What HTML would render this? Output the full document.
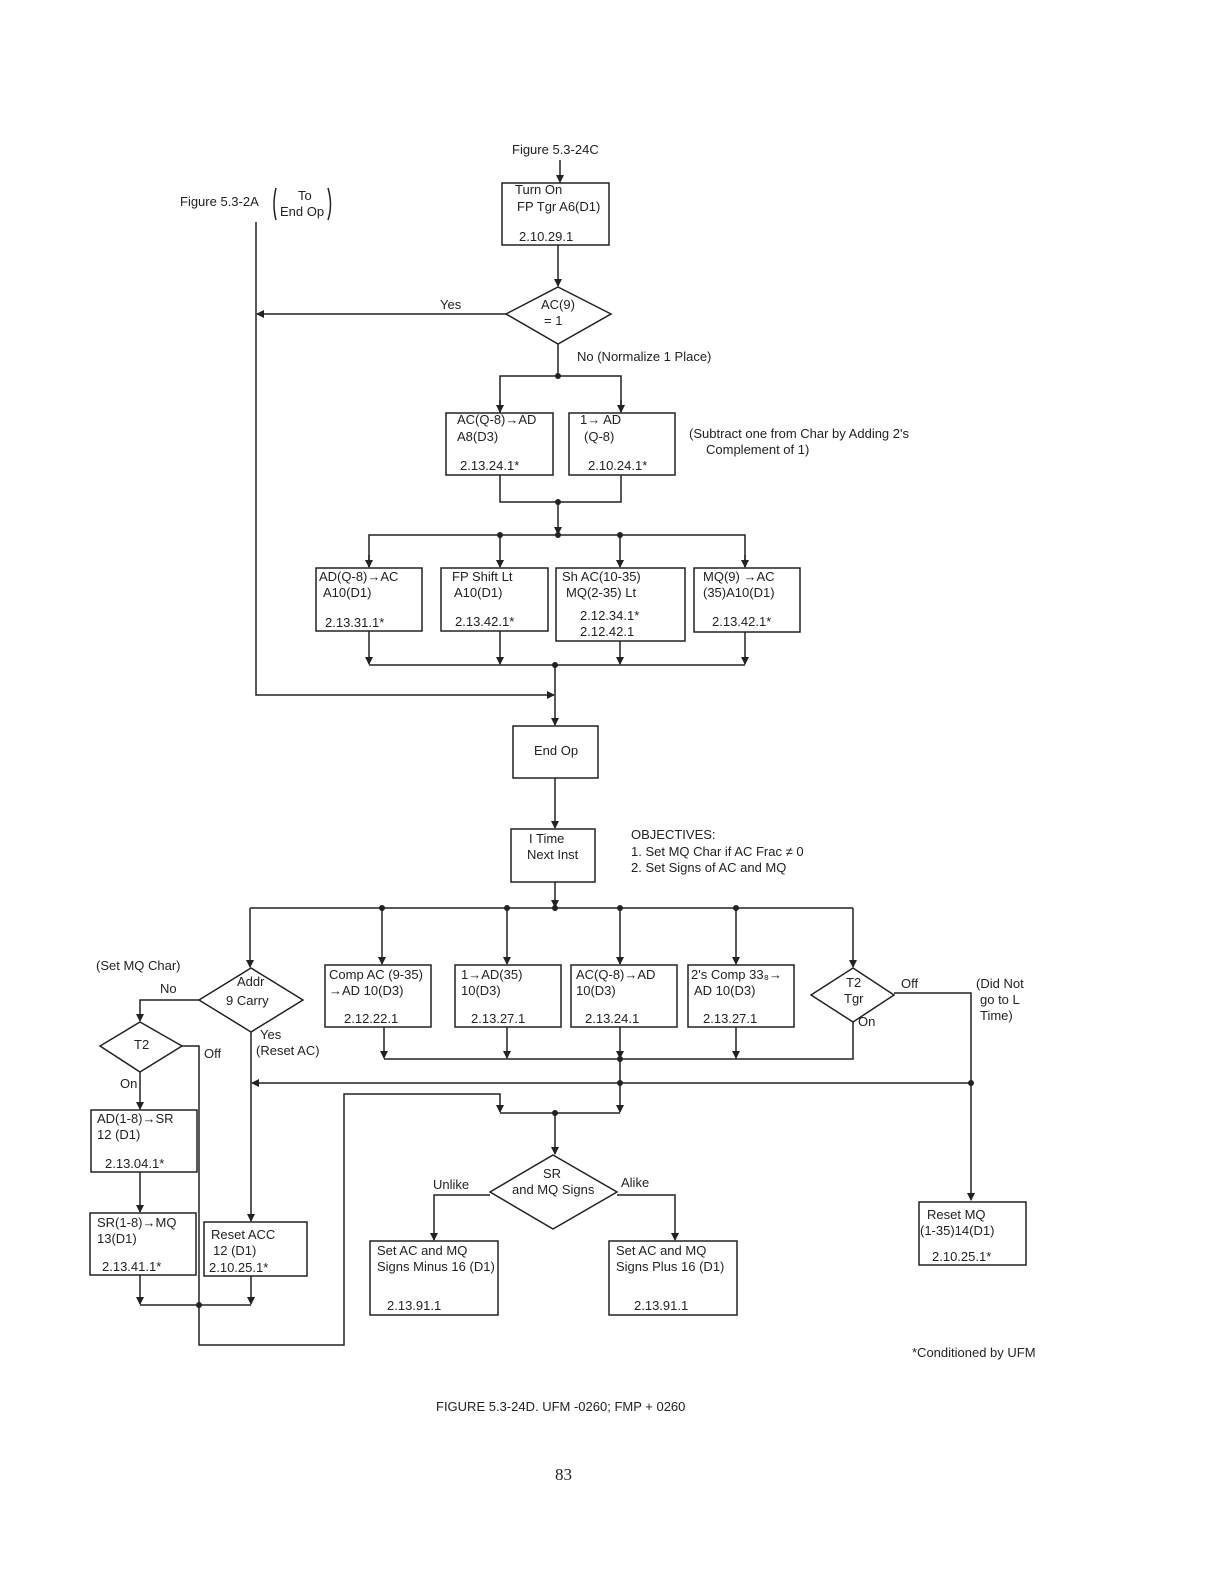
<!DOCTYPE html>
<html><head><meta charset="utf-8"><style>
body{margin:0;background:#fff}
svg{display:block}
text{font-family:"Liberation Sans",sans-serif;font-size:13px;fill:#222}
</style></head><body>
<svg width="1224" height="1584" viewBox="0 0 1224 1584" xmlns="http://www.w3.org/2000/svg">
<defs><marker id="a" markerWidth="8" markerHeight="8" refX="7" refY="4" orient="auto" markerUnits="userSpaceOnUse"><path d="M0,0 L8,4 L0,8 z" fill="#222"/></marker></defs>
<g stroke="#222" stroke-width="1.5" fill="none">
<!-- top -->
<line x1="560" y1="160" x2="560" y2="182" marker-end="url(#a)"/>
<rect x="502" y="183" width="107" height="62"/>
<line x1="558" y1="245" x2="558" y2="286" marker-end="url(#a)"/>
<polygon points="558,287 611,314 558,344 506,314"/>
<line x1="506" y1="314" x2="257" y2="314" marker-end="url(#a)"/>
<path d="M256 222 V695 H554" marker-end="url(#a)"/>
<line x1="558" y1="344" x2="558" y2="376"/>
<path d="M500 413 V376 H621 V412"/>
<line x1="500" y1="400" x2="500" y2="412" marker-end="url(#a)"/>
<line x1="621" y1="400" x2="621" y2="412" marker-end="url(#a)"/>
<rect x="446" y="413" width="107" height="62"/>
<rect x="569" y="413" width="106" height="62"/>
<path d="M500 475 V502 H621 V475"/>
<line x1="558" y1="502" x2="558" y2="534" marker-end="url(#a)"/>
<path d="M369 567 V535 H745 V567"/>
<line x1="369" y1="555" x2="369" y2="567" marker-end="url(#a)"/>
<line x1="745" y1="555" x2="745" y2="567" marker-end="url(#a)"/>
<line x1="500" y1="535" x2="500" y2="567" marker-end="url(#a)"/>
<line x1="620" y1="535" x2="620" y2="567" marker-end="url(#a)"/>
<rect x="316" y="568" width="106" height="63"/>
<rect x="441" y="568" width="107" height="63"/>
<rect x="556" y="568" width="129" height="73"/>
<rect x="694" y="568" width="106" height="64"/>
<line x1="369" y1="631" x2="369" y2="664" marker-end="url(#a)"/>
<line x1="500" y1="631" x2="500" y2="664" marker-end="url(#a)"/>
<line x1="620" y1="641" x2="620" y2="664" marker-end="url(#a)"/>
<line x1="745" y1="632" x2="745" y2="664" marker-end="url(#a)"/>
<line x1="369" y1="665" x2="745" y2="665"/>
<line x1="555" y1="665" x2="555" y2="725" marker-end="url(#a)"/>
<rect x="513" y="726" width="85" height="52"/>
<line x1="555" y1="778" x2="555" y2="828" marker-end="url(#a)"/>
<rect x="511" y="829" width="84" height="53"/>
<line x1="555" y1="882" x2="555" y2="907" marker-end="url(#a)"/>
<line x1="250" y1="908" x2="853" y2="908"/>
<line x1="250" y1="908" x2="250" y2="967" marker-end="url(#a)"/>
<line x1="382" y1="908" x2="382" y2="964" marker-end="url(#a)"/>
<line x1="507" y1="908" x2="507" y2="964" marker-end="url(#a)"/>
<line x1="620" y1="908" x2="620" y2="964" marker-end="url(#a)"/>
<line x1="736" y1="908" x2="736" y2="964" marker-end="url(#a)"/>
<line x1="853" y1="908" x2="853" y2="967" marker-end="url(#a)"/>
<!-- second row -->
<rect x="325" y="965" width="106" height="62"/>
<rect x="455" y="965" width="106" height="62"/>
<rect x="571" y="965" width="106" height="62"/>
<rect x="688" y="965" width="106" height="62"/>
<polygon points="853,968 894,995 853,1022 811,995"/>
<path d="M894 993 H971 V1200" marker-end="url(#a)"/>
<path d="M853 1022 V1059 H384"/>
<line x1="384" y1="1027" x2="384" y2="1058" marker-end="url(#a)"/>
<line x1="507" y1="1027" x2="507" y2="1058" marker-end="url(#a)"/>
<line x1="620" y1="1027" x2="620" y2="1058" marker-end="url(#a)"/>
<line x1="736" y1="1027" x2="736" y2="1058" marker-end="url(#a)"/>
<line x1="620" y1="1059" x2="620" y2="1112" marker-end="url(#a)"/>
<line x1="971" y1="1083" x2="252" y2="1083" marker-end="url(#a)"/>
<!-- left -->
<polygon points="251,968 303,1000 251,1032 199,1000"/>
<path d="M199 1000 H140 V1021" marker-end="url(#a)"/>
<polygon points="140,1022 182,1046 140,1072 100,1046"/>
<path d="M182 1046 H199 V1345 H344 V1094 H500 V1112" marker-end="url(#a)"/>
<line x1="140" y1="1072" x2="140" y2="1109" marker-end="url(#a)"/>
<rect x="91" y="1110" width="106" height="62"/>
<line x1="140" y1="1172" x2="140" y2="1212" marker-end="url(#a)"/>
<rect x="90" y="1213" width="106" height="62"/>
<line x1="251" y1="1032" x2="251" y2="1221" marker-end="url(#a)"/>
<rect x="204" y="1222" width="103" height="54"/>
<line x1="140" y1="1275" x2="140" y2="1304" marker-end="url(#a)"/>
<line x1="251" y1="1276" x2="251" y2="1304" marker-end="url(#a)"/>
<line x1="140" y1="1305" x2="251" y2="1305"/>
<line x1="500" y1="1113" x2="620" y2="1113"/>
<line x1="555" y1="1113" x2="555" y2="1154" marker-end="url(#a)"/>
<polygon points="553,1155 617,1192 553,1229 490,1192"/>
<path d="M490 1195 H434 V1240" marker-end="url(#a)"/>
<path d="M617 1195 H675 V1240" marker-end="url(#a)"/>
<rect x="370" y="1241" width="128" height="74"/>
<rect x="609" y="1241" width="128" height="74"/>
<rect x="919" y="1202" width="107" height="63"/>
<path d="M276 188 Q272 205 276 220"/><path d="M328 188 Q333 205 328 220"/>
</g>
<g fill="#222">
<circle cx="558" cy="376" r="3"/><circle cx="558" cy="502" r="3"/>
<circle cx="500" cy="535" r="3"/><circle cx="558" cy="535" r="3"/><circle cx="620" cy="535" r="3"/>
<circle cx="555" cy="665" r="3"/>
<circle cx="382" cy="908" r="3"/><circle cx="507" cy="908" r="3"/><circle cx="555" cy="908" r="3"/><circle cx="620" cy="908" r="3"/><circle cx="736" cy="908" r="3"/>
<circle cx="620" cy="1059" r="3"/><circle cx="620" cy="1083" r="3"/><circle cx="971" cy="1083" r="3"/>
<circle cx="199" cy="1305" r="3"/><circle cx="555" cy="1113" r="3"/>
</g>
<text x="512" y="154">Figure 5.3-24C</text>
<text x="180" y="206">Figure 5.3-2A</text>
<text x="298" y="200">To</text><text x="280" y="216">End Op</text>
<text x="515" y="194">Turn On</text><text x="517" y="211">FP Tgr A6(D1)</text><text x="519" y="241">2.10.29.1</text>
<text x="440" y="309">Yes</text>
<text x="541" y="309">AC(9)</text><text x="544" y="325">= 1</text>
<text x="577" y="361">No (Normalize 1 Place)</text>
<text x="457" y="424">AC(Q-8)→AD</text><text x="457" y="441">A8(D3)</text><text x="460" y="470">2.13.24.1*</text>
<text x="580" y="424">1→ AD</text><text x="584" y="441">(Q-8)</text><text x="588" y="470">2.10.24.1*</text>
<text x="689" y="438">(Subtract one from Char by Adding 2's</text><text x="706" y="454">Complement of 1)</text>
<text x="319" y="581">AD(Q-8)→AC</text><text x="323" y="597">A10(D1)</text><text x="325" y="627">2.13.31.1*</text>
<text x="452" y="581">FP Shift Lt</text><text x="454" y="597">A10(D1)</text><text x="455" y="626">2.13.42.1*</text>
<text x="562" y="581">Sh AC(10-35)</text><text x="566" y="597">MQ(2-35) Lt</text><text x="580" y="620">2.12.34.1*</text><text x="580" y="636">2.12.42.1</text>
<text x="703" y="581">MQ(9) →AC</text><text x="703" y="597">(35)A10(D1)</text><text x="712" y="626">2.13.42.1*</text>
<text x="534" y="755">End Op</text>
<text x="529" y="843">I Time</text><text x="527" y="859">Next Inst</text>
<text x="631" y="839">OBJECTIVES:</text><text x="631" y="856">1.  Set MQ Char if AC Frac ≠ 0</text><text x="631" y="872">2.  Set Signs of AC and MQ</text>
<text x="96" y="970">(Set MQ Char)</text><text x="160" y="993">No</text>
<text x="237" y="986">Addr</text><text x="226" y="1005">9 Carry</text>
<text x="260" y="1039">Yes</text><text x="256" y="1055">(Reset AC)</text>
<text x="134" y="1049">T2</text><text x="204" y="1058">Off</text><text x="120" y="1088">On</text>
<text x="329" y="979">Comp AC (9-35)</text><text x="329" y="995">→AD 10(D3)</text><text x="344" y="1023">2.12.22.1</text>
<text x="461" y="979">1→AD(35)</text><text x="461" y="995">10(D3)</text><text x="471" y="1023">2.13.27.1</text>
<text x="576" y="979">AC(Q-8)→AD</text><text x="576" y="995">10(D3)</text><text x="585" y="1023">2.13.24.1</text>
<text x="691" y="979">2's Comp 33₈→</text><text x="694" y="995">AD 10(D3)</text><text x="703" y="1023">2.13.27.1</text>
<text x="846" y="987">T2</text><text x="844" y="1003">Tgr</text><text x="901" y="988">Off</text><text x="858" y="1026">On</text>
<text x="976" y="988">(Did Not</text><text x="980" y="1004">go to L</text><text x="980" y="1020">Time)</text>
<text x="97" y="1123">AD(1-8)→SR</text><text x="97" y="1139">12 (D1)</text><text x="105" y="1168">2.13.04.1*</text>
<text x="97" y="1227">SR(1-8)→MQ</text><text x="97" y="1243">13(D1)</text><text x="102" y="1271">2.13.41.1*</text>
<text x="211" y="1239">Reset ACC</text><text x="213" y="1255">12 (D1)</text><text x="209" y="1272">2.10.25.1*</text>
<text x="543" y="1178">SR</text><text x="512" y="1194">and MQ Signs</text>
<text x="433" y="1189">Unlike</text><text x="621" y="1187">Alike</text>
<text x="377" y="1255">Set AC and MQ</text><text x="377" y="1271">Signs Minus 16 (D1)</text><text x="387" y="1310">2.13.91.1</text>
<text x="616" y="1255">Set AC and MQ</text><text x="616" y="1271">Signs Plus 16 (D1)</text><text x="634" y="1310">2.13.91.1</text>
<text x="927" y="1219">Reset MQ</text><text x="920" y="1235">(1-35)14(D1)</text><text x="932" y="1261">2.10.25.1*</text>
<text x="912" y="1357">*Conditioned by UFM</text>
<text x="436" y="1411">FIGURE 5.3-24D.  UFM -0260;  FMP + 0260</text>
<text x="555" y="1480" style="font-family:'Liberation Serif',serif;font-size:17px">83</text>
</svg>
</body></html>
